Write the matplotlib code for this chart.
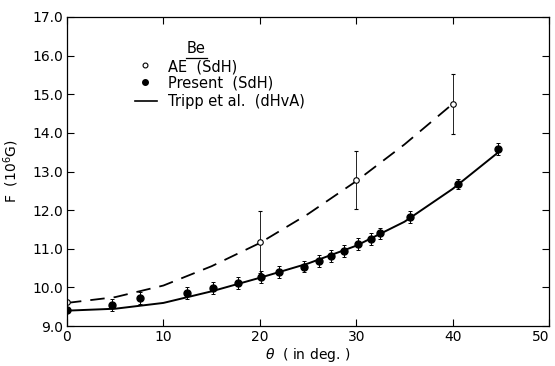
import numpy as np
import matplotlib
matplotlib.use("Agg")
import matplotlib.pyplot as plt
from matplotlib.ticker import MultipleLocator, FormatStrFormatter

# Present (SdH) data - filled circles
present_theta = [0.0, 4.7, 7.6, 12.4, 15.1, 17.7, 20.1, 22.0, 24.6, 26.1, 27.4, 28.7,
                 30.2, 31.5, 32.5, 35.6, 40.6, 44.7]
present_F = [9.42, 9.54, 9.72, 9.85, 9.98, 10.12, 10.27, 10.40, 10.54, 10.68, 10.82, 10.95,
             11.12, 11.25, 11.40, 11.82, 12.68, 13.58]
present_err = [0.0, 0.15, 0.15, 0.15, 0.15, 0.15, 0.15, 0.15, 0.15, 0.15, 0.15, 0.15,
               0.15, 0.15, 0.15, 0.15, 0.13, 0.15]

# AE (SdH) data - open circles
ae_theta = [0.0, 20.0, 30.0, 40.0]
ae_F = [9.62, 11.18, 12.78, 14.75]
ae_err = [0.0, 0.8, 0.75, 0.78]

# dashed guide through AE points
ae_line_theta = [0, 5, 10, 15, 20, 25, 30, 35, 40]
ae_line_F = [9.6, 9.75, 10.05, 10.55, 11.15, 11.9, 12.75, 13.7, 14.75]

# Tripp et al. (dHvA) curve
tripp_theta = [0, 5, 10, 15, 20, 25, 30, 35, 40, 45]
tripp_F = [9.4, 9.45, 9.6, 9.9, 10.25, 10.62, 11.08, 11.7, 12.55, 13.55]

x_ticks = [0, 10, 20, 30, 40, 50]

plt.rcParams['font.family'] = 'DejaVu Sans'

fig = plt.figure(figsize=(5.55, 3.66), dpi=100)
ax = fig.add_axes([0.1207, 0.109, 0.8685, 0.8446])

ax.plot(tripp_theta, tripp_F, color='black', lw=1.4)
dash, = ax.plot(ae_line_theta, ae_line_F, color='black', lw=1.3)
dash.set_dashes([8, 5])

ax.errorbar(present_theta, present_F, yerr=present_err, fmt='o', color='black',
            markersize=5, elinewidth=0.7, capsize=1.5, capthick=0.7)
ax.errorbar(ae_theta, ae_F, yerr=ae_err, fmt='o', color='black', mfc='white',
            markersize=4, mew=0.8, elinewidth=0.6, capsize=1.5, capthick=0.6)

ax.set_xlim(0, 50)
ax.set_ylim(9.0, 17.0)
ax.set_xticks(x_ticks, [str(t) for t in x_ticks])
ax.yaxis.set_major_locator(MultipleLocator(1.0))
ax.yaxis.set_major_formatter(FormatStrFormatter('%.1f'))
ax.tick_params(direction='in', top=True, right=True, length=5, width=0.8,
               labelsize=10, pad=3)
for s in ax.spines.values():
    s.set_linewidth(0.9)
# keep the "50" inside the figure
ax.get_xticklabels()[-1].set_horizontalalignment('right')

ax.set_xlabel(r'$\theta$  ( in deg. )', fontsize=10, labelpad=1)
ax.set_ylabel(r'F  (10$^6$G)', fontsize=10, labelpad=8)

# legend drawn by hand
tr = ax.transAxes
ax.text(0.268, 0.898, 'Be', transform=tr, ha='center', va='center', fontsize=10.5)
ax.plot([0.246, 0.290], [0.866, 0.866], transform=tr, color='black', lw=0.9)
ax.plot([0.162], [0.844], transform=tr, marker='o', ms=3.5, mfc='white', mec='black', mew=0.8)
ax.plot([0.162], [0.789], transform=tr, marker='o', ms=4, color='black')
ax.plot([0.141, 0.187], [0.727, 0.727], transform=tr, color='black', lw=1.2)
ax.text(0.21, 0.839, 'AE  (SdH)', transform=tr, va='center', fontsize=10.5)
ax.text(0.21, 0.786, 'Present  (SdH)', transform=tr, va='center', fontsize=10.5)
ax.text(0.21, 0.727, 'Tripp et al.  (dHvA)', transform=tr, va='center', fontsize=10.5)

fig.savefig('out.png', dpi=100)
